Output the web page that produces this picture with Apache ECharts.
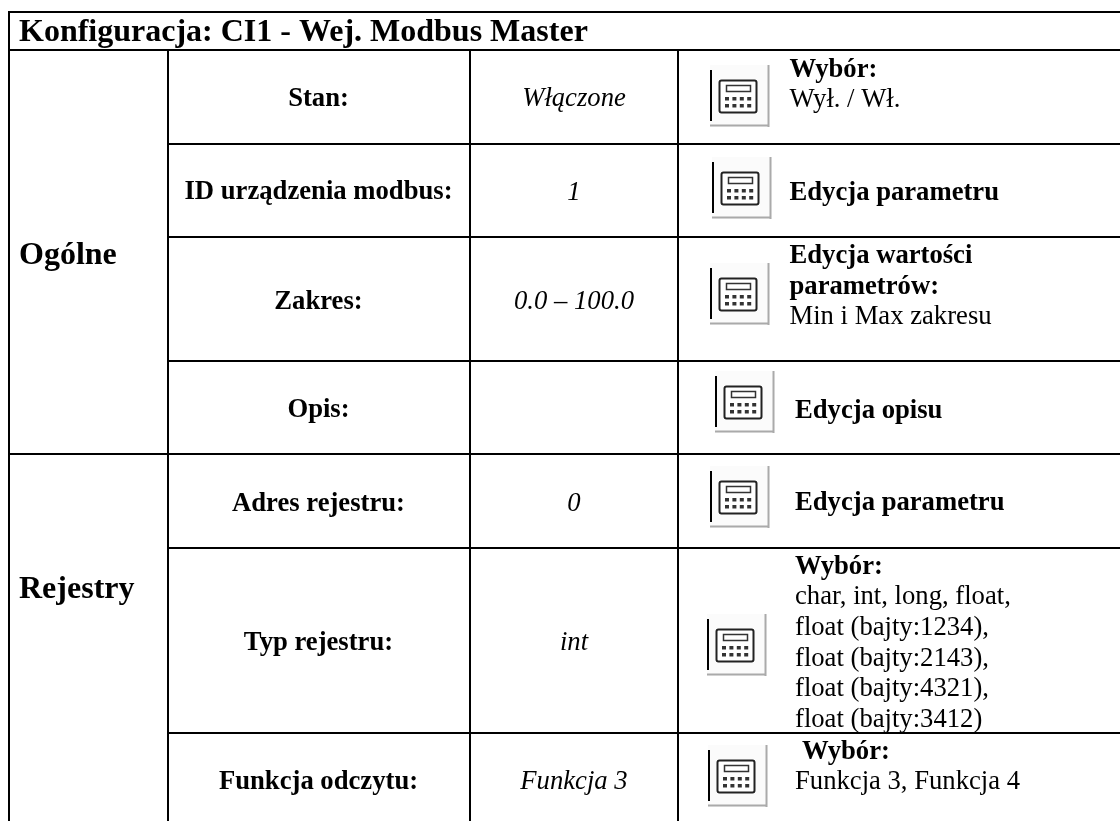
<!DOCTYPE html>
<html>
<head>
<meta charset="utf-8">
<style>
  html, body { margin: 0; padding: 0; background: #fff; }
  #main { width: 1120px; height: 821px; }
</style>
<script src="https://cdn.jsdelivr.net/npm/echarts@6/dist/echarts.min.js"></script>
</head>
<body>
<div id="main"></div>
<script>
const titleText = 'Konfiguracja: CI1 - Wej. Modbus Master';
const groupNames = ['Ogólne', 'Rejestry'];
const rowLabels = ['Stan:', 'ID urządzenia modbus:', 'Zakres:', 'Opis:', 'Adres rejestru:', 'Typ rejestru:', 'Funkcja odczytu:'];
const rowValues = ['Włączone', '1', '0.0 – 100.0', '', '0', 'int', 'Funkcja 3'];
// each note line: [text, bold]
const rowNotes = [
  [['Wybór:', true], ['Wył. / Wł.', false]],
  [['Edycja parametru', true]],
  [['Edycja wartości', true], ['parametrów:', true], ['Min i Max zakresu', false]],
  [['Edycja opisu', true]],
  [['Edycja parametru', true]],
  [['Wybór:', true], ['char, int, long, float,', false], ['float (bajty:1234),', false], ['float (bajty:2143),', false], ['float (bajty:4321),', false], ['float (bajty:3412)', false]],
  [['Wybór:', true], ['Funkcja 3, Funkcja 4', false]]
];

// layout, px
const FONT = '"Liberation Serif", "Times New Roman", serif';
const colX = [9, 168, 470, 678];
const rowY = [50, 144, 237, 361, 454, 548, 733];
const groupY = [256, 590];
const labelY = [99, 192.5, 302, 410, 504, 643, 782];
const noteXs = [
  [789.5, 789.5],
  [789.5],
  [789.5, 789.5, 789.5],
  [795],
  [795],
  [795, 795, 795, 795, 795, 795],
  [802, 795]
];
const noteYs = [
  [70, 100],
  [193],
  [256, 287, 317],
  [411],
  [503],
  [567, 597, 628, 659, 689, 720],
  [752, 782]
];
const iconX = [710, 712, 710, 715, 710, 707, 708];
const iconY = [65, 157, 263, 371, 466, 614, 745];

function line(x1, y1, x2, y2, color, width) {
  return { type: 'line', silent: true, shape: { x1, y1, x2, y2 }, style: { stroke: color || '#000', lineWidth: width || 2 } };
}
function text(str, x, y, size, opts) {
  const o = opts || {};
  return {
    type: 'text', silent: true, x, y,
    style: {
      text: str, fill: '#000', fontFamily: FONT, fontSize: size,
      fontWeight: o.bold ? 'bold' : 'normal', fontStyle: o.italic ? 'italic' : 'normal',
      align: o.align || 'left', verticalAlign: 'middle'
    }
  };
}
// toolbar button with a little calculator on it
function icon(x, y) {
  const kids = [
    { type: 'rect', shape: { x: 0, y: 0, width: 60, height: 62 }, style: { fill: '#fbfbfb' } },
    line(1, 5, 1, 56, '#000', 2),
    line(58.5, 0, 58.5, 62, '#aaa', 2),
    line(0, 60.5, 59, 60.5, '#aaa', 2),
    { type: 'rect', shape: { x: 9.5, y: 15.5, width: 37, height: 32, r: 2 }, style: { fill: '#fff', stroke: '#222', lineWidth: 2 } },
    { type: 'rect', shape: { x: 16.5, y: 20.5, width: 24, height: 6 }, style: { fill: '#fff', stroke: '#333', lineWidth: 1.5 } }
  ];
  for (let r = 0; r < 2; r++) {
    for (let c = 0; c < 4; c++) {
      kids.push({ type: 'rect', shape: { x: 15 + c * 7.4, y: 32 + r * 7, width: 4, height: 3.5 }, style: { fill: '#333' } });
    }
  }
  return { type: 'group', x, y, silent: true, children: kids };
}

const els = [];
els.push(line(colX[0], 12, 1120, 12));
els.push(line(colX[0], rowY[0], 1120, rowY[0]));
els.push(line(colX[0], 11, colX[0], 821));
els.push(line(colX[1], rowY[0], colX[1], 821));
els.push(line(colX[2], rowY[0], colX[2], 821));
els.push(line(colX[3], rowY[0], colX[3], 821));
rowY.slice(1).forEach(function (y, i) {
  els.push(line(i === 3 ? colX[0] : colX[1], y, 1120, y));
});
els.push(text(titleText, 19, 33, 32, { bold: true }));
groupNames.forEach(function (g, i) {
  els.push(text(g, 19, groupY[i], 32, { bold: true }));
});
rowLabels.forEach(function (l, i) {
  els.push(text(l, 318.5, labelY[i], 26.67, { bold: true, align: 'center' }));
  if (rowValues[i]) els.push(text(rowValues[i], 574, labelY[i], 26.67, { italic: true, align: 'center' }));
  els.push(icon(iconX[i], iconY[i]));
  rowNotes[i].forEach(function (n, k) {
    els.push(text(n[0], noteXs[i][k], noteYs[i][k], 26.67, { bold: n[1] }));
  });
});

const myChart = echarts.init(document.getElementById('main'));
myChart.setOption({
  backgroundColor: '#fff',
  animation: false,
  graphic: { elements: els }
});
</script>
</body>
</html>
